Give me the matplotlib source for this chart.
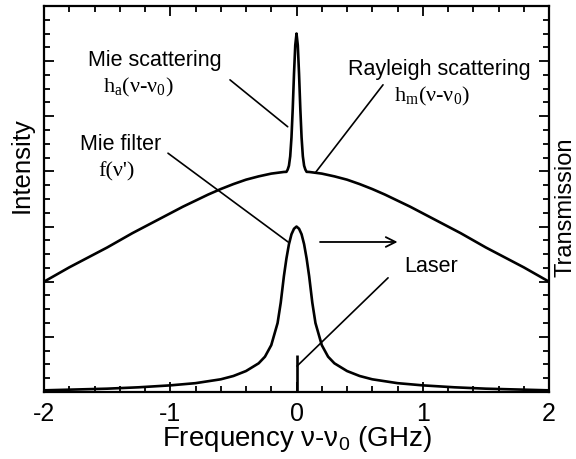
import numpy as np
import matplotlib
matplotlib.use("Agg")
from matplotlib import pyplot as plt
from matplotlib.ticker import MultipleLocator

plt.rcParams['font.family'] = ['Liberation Sans', 'DejaVu Sans']
plt.rcParams['mathtext.fontset'] = 'custom'
plt.rcParams['mathtext.rm'] = 'Liberation Serif'
plt.rcParams['mathtext.sf'] = 'Liberation Sans'
plt.rcParams['axes.unicode_minus'] = False

# one side of each symmetric profile (GHz offset from nu_0, intensity)
rayleigh_x = [0.0, 0.1, 0.2, 0.3, 0.4, 0.5, 0.6, 0.7, 0.8, 0.9, 1.0,
              1.1, 1.2, 1.3, 1.4, 1.5, 1.6, 1.7, 1.8, 1.9, 2.0]
rayleigh_y = [4.00, 3.99, 3.96, 3.91, 3.85, 3.77, 3.68, 3.58, 3.47, 3.36, 3.24,
              3.12, 3.00, 2.88, 2.75, 2.62, 2.50, 2.38, 2.26, 2.13, 2.00]
mie_x = [0.0, 0.01, 0.02, 0.03, 0.04, 0.05, 0.06, 0.07, 0.08]
mie_y = [2.50, 2.29, 1.77, 1.14, 0.62, 0.28, 0.11, 0.04, 0.0]
filter_x = [0.0, 0.02, 0.04, 0.06, 0.08, 0.10, 0.125, 0.15, 0.2, 0.25, 0.3,
            0.4, 0.5, 0.6, 0.8, 1.0, 1.25, 1.5, 2.0]
filter_y = [3.00, 2.96, 2.86, 2.68, 2.42, 2.10, 1.62, 1.25, 0.85, 0.64, 0.52,
            0.38, 0.29, 0.23, 0.16, 0.12, 0.085, 0.06, 0.03]
laser_height = 0.67


def mirror(x, y):
    x = np.asarray(x, dtype=float)
    y = np.asarray(y, dtype=float)
    return np.concatenate([-x[:0:-1], x]), np.concatenate([y[:0:-1], y])


# scattered spectrum = Rayleigh background + narrow Mie peak on top
rx, ry = mirror(rayleigh_x, rayleigh_y)
mx, my = mirror(mie_x, mie_y)
spec_x = np.union1d(rx, mx)
spec_y = np.interp(spec_x, rx, ry) + np.interp(spec_x, mx, my, left=0, right=0)
fx, fy = mirror(filter_x, filter_y)

fig = plt.figure(figsize=(5.76, 4.59), dpi=100)
ax = fig.add_axes([0.0764, 0.146, 0.8768, 0.841])

ax.plot(spec_x, spec_y, color='black', lw=1.9, solid_joinstyle='round')
ax.plot(fx, fy, color='black', lw=1.9, solid_joinstyle='round')
ax.vlines(0, 0, laser_height, color='black', lw=1.9)

ax.set_xlim(-2, 2)
ax.set_ylim(0, 7)
ax.xaxis.set_major_locator(MultipleLocator(1))
ax.xaxis.set_minor_locator(MultipleLocator(0.2))
ax.yaxis.set_major_locator(MultipleLocator(1))
ax.yaxis.set_minor_locator(MultipleLocator(0.25))
ax.tick_params(which='both', direction='in', top=True, right=True, width=1.3)
ax.tick_params(which='major', length=7, labelsize=18, pad=7)
ax.tick_params(which='minor', length=4.5)
ax.set_yticklabels([])
for s in ax.spines.values():
    s.set_linewidth(1.6)

ax.set_xlabel('Frequency ν-ν$_\\mathsf{0}$ (GHz)', fontsize=20, labelpad=-1)
fig.text(22 / 576, 1 - 165 / 459, 'Intensity', fontsize=18.5,
         rotation=90, ha='center', va='center')
fig.text(566 / 576, 1 - 207 / 459, 'Transmission', fontsize=17,
         rotation=90, ha='center', va='center')

# labels and leader lines
txt = dict(fontsize=15.5, ha='center', va='center')
serif = dict(fontsize=16, ha='center', va='center', family='Liberation Serif')
lead = dict(arrowstyle='-', color='black', lw=1.2, shrinkA=0, shrinkB=0)

ax.text(-1.12, 6.02, 'Mie scattering', **txt)
ax.text(-1.25, 5.52, 'h$_\\mathrm{a}$(ν-ν$_\\mathrm{0}$)', **serif)
ax.annotate('', xy=(-0.07, 4.81), xytext=(-0.527, 5.66), arrowprops=lead)

ax.text(1.13, 5.84, 'Rayleigh scattering', **txt)
ax.text(1.07, 5.35, 'h$_\\mathrm{m}$(ν-ν$_\\mathrm{0}$)', **serif)
ax.annotate('', xy=(0.147, 3.97), xytext=(0.685, 5.57), arrowprops=lead)

ax.text(-1.39, 4.48, 'Mie filter', **txt)
ax.text(-1.43, 3.99, "f(ν')", **serif)
ax.annotate('', xy=(-0.067, 2.72), xytext=(-1.018, 4.33), arrowprops=lead)

ax.annotate('', xy=(0.80, 2.72), xytext=(0.186, 2.72),
            arrowprops=dict(arrowstyle='->,head_length=0.7,head_width=0.35',
                            color='black', lw=1.3, shrinkA=0, shrinkB=0))

ax.text(1.065, 2.27, 'Laser', **txt)
ax.annotate('', xy=(0.004, 0.47), xytext=(0.725, 2.07), arrowprops=lead)

fig.savefig('out.png', dpi=100)
